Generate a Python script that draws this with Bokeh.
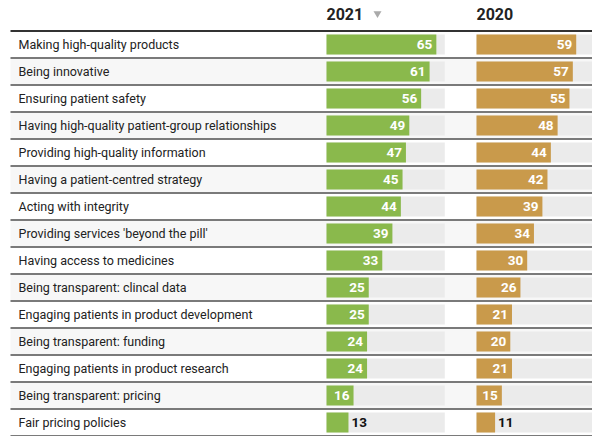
from bokeh.plotting import figure
from bokeh.models import Range1d, ColumnDataSource
from bokeh.core.properties import value
from bokeh.embed import file_html
from bokeh.resources import INLINE

categories = [
    "Making high-quality products",
    "Being innovative",
    "Ensuring patient safety",
    "Having high-quality patient-group relationships",
    "Providing high-quality information",
    "Having a patient-centred strategy",
    "Acting with integrity",
    "Providing services 'beyond the pill'",
    "Having access to medicines",
    "Being transparent: clincal data",
    "Engaging patients in product development",
    "Being transparent: funding",
    "Engaging patients in product research",
    "Being transparent: pricing",
    "Fair pricing policies",
]
v2021 = [65, 61, 56, 49, 47, 45, 44, 39, 33, 25, 25, 24, 24, 16, 13]
v2020 = [59, 57, 55, 48, 44, 42, 39, 34, 30, 26, 21, 20, 21, 15, 11]
years = ["2021", "2020"]
track_max = 70

# layout (image pixel coordinates)
W, H = 592, 436
row_h = 27.0
first_center = 44.0
bar_h = 20
px_per_unit = 1.69
col_starts = [326, 476]
green = "#8ab94c"
gold = "#c99a4b"
colors = [green, gold]
FONT = "Roboto"

p = figure(width=W, height=H, output_backend="svg", toolbar_location=None,
           x_range=Range1d(0, W), y_range=Range1d(H, 0),
           min_border=0, min_border_left=0, min_border_right=0,
           min_border_top=0, min_border_bottom=0)
p.axis.visible = False
p.grid.visible = False
p.outline_line_color = None
p.background_fill_color = "white"
p.border_fill_color = "white"

n = len(categories)
centers = [first_center + i * row_h for i in range(n)]
right_edge = 600

# alternating row backgrounds
odd = [c for i, c in enumerate(centers) if i % 2 == 1]
p.hbar(y=odd, left=10, right=right_edge, height=row_h, fill_color="#f7f7f7", line_color=None)

# separators
bottoms = [c + row_h / 2 for c in centers]
p.segment(x0=10, x1=right_edge, y0=bottoms, y1=bottoms, line_color="#7a7a7a", line_width=1.8)
top = centers[0] - row_h / 2
p.segment(x0=[10], x1=[right_edge], y0=[top], y1=[top], line_color="#333333", line_width=2)

# category labels
p.text(x=18, y=centers, text=categories, text_font=value(FONT), text_font_size="12.5px",
       text_color="#222222", text_baseline="middle", text_align="left")

for vals, x0, col, yr in zip([v2021, v2020], col_starts, colors, years):
    track_right = x0 + track_max * px_per_unit
    p.hbar(y=centers, left=x0, right=track_right, height=bar_h, fill_color="#ebebeb", line_color=None)
    rights = [x0 + v * px_per_unit for v in vals]
    p.hbar(y=centers, left=x0, right=rights, height=bar_h, fill_color=col, line_color=None)
    inside = [v >= 15 for v in vals]
    src_in = ColumnDataSource(dict(x=[r - 4 for r, ins in zip(rights, inside) if ins],
                                   y=[c for c, ins in zip(centers, inside) if ins],
                                   t=[str(v) for v, ins in zip(vals, inside) if ins]))
    p.text(x="x", y="y", text="t", source=src_in, text_font=value(FONT), text_font_size="13.5px",
           text_font_style="bold", text_color="white", text_align="right", text_baseline="middle")
    src_out = ColumnDataSource(dict(x=[r + 3 for r, ins in zip(rights, inside) if not ins],
                                    y=[c for c, ins in zip(centers, inside) if not ins],
                                    t=[str(v) for v, ins in zip(vals, inside) if not ins]))
    p.text(x="x", y="y", text="t", source=src_out, text_font=value(FONT), text_font_size="13.5px",
           text_font_style="bold", text_color="#111111", text_align="left", text_baseline="middle")
    p.text(x=[x0], y=[13], text=[yr], text_font=value(FONT), text_font_size="16px",
           text_font_style="bold", text_color="#222222", text_align="left", text_baseline="middle")

p.scatter(x=[377], y=[13], marker="inverted_triangle", size=8, fill_color="#aaaaaa", line_color=None)

open("out.html", "w").write(file_html(p, INLINE))
